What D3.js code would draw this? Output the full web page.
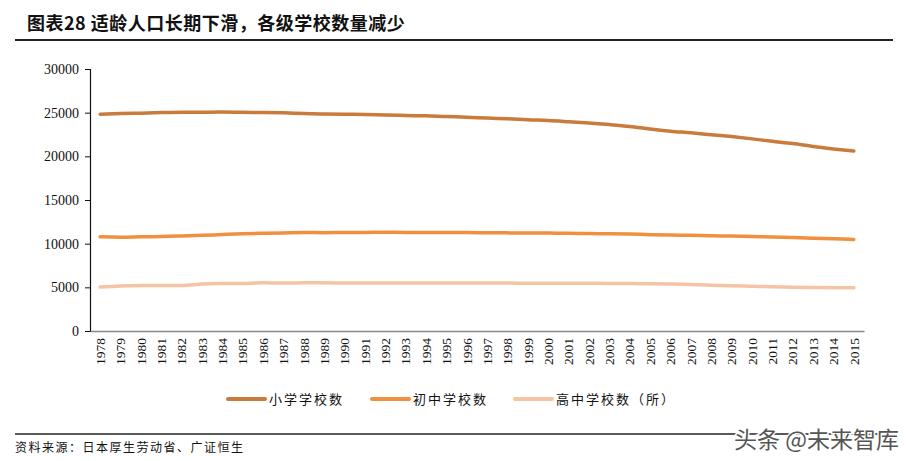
<!DOCTYPE html>
<html><head><meta charset="utf-8">
<script src="https://cdn.jsdelivr.net/npm/d3@7"></script>
<style>body{margin:0;background:#fff;}svg{display:block;}</style>
</head><body>
<svg id="c" width="906" height="461"></svg>
<script>
const years = [1978,1979,1980,1981,1982,1983,1984,1985,1986,1987,1988,1989,1990,1991,1992,1993,1994,1995,1996,1997,1998,1999,2000,2001,2002,2003,2004,2005,2006,2007,2008,2009,2010,2011,2012,2013,2014,2015];
const elementary = [24828,24899,24945,25005,25043,25045,25064,25040,25020,24982,24901,24851,24827,24798,24730,24676,24635,24548,24482,24376,24295,24188,24106,23964,23808,23633,23420,23123,22878,22693,22476,22258,22000,21721,21460,21131,20852,20601];
const juniorHigh = [10778,10746,10780,10810,10879,10950,11047,11131,11190,11230,11266,11264,11275,11290,11300,11292,11289,11274,11269,11257,11236,11220,11209,11191,11159,11134,11102,11035,10992,10955,10915,10864,10815,10751,10699,10628,10557,10484];
const highSchool = [5027,5152,5208,5219,5213,5369,5431,5453,5512,5508,5512,5511,5506,5503,5501,5501,5497,5501,5496,5496,5483,5481,5478,5479,5472,5450,5429,5418,5385,5313,5243,5183,5116,5060,5022,4981,4963,4939];
const yTicks = [0,5000,10000,15000,20000,25000,30000];
const seriesNames = ["小学学校数","初中学校数","高中学校数（所）"];
const colors = ["#c97b3c","#f0903e","#f7c3a6"];
const title = "图表28 适龄人口长期下滑，各级学校数量减少";
const source = "资料来源：日本厚生劳动省、广证恒生";

const svg = d3.select("#c");
const serif = "'Liberation Serif','DejaVu Serif',serif";
const cjk = "'Noto Sans CJK SC','Noto Sans',sans-serif";

// title
svg.append("text").attr("x",27).attr("y",30).attr("font-family",cjk).attr("font-weight","bold")
  .attr("font-size",18).attr("letter-spacing","0.5px").attr("fill","#111").text(title);
svg.append("line").attr("x1",15).attr("x2",893).attr("y1",40).attr("y2",40).attr("stroke","#222").attr("stroke-width",2);

const x = d3.scaleBand().domain(years).range([90,864]);
const y = d3.scaleLinear().domain([0,30000]).range([331,69]);

// y axis
const ya = svg.append("g").attr("transform","translate(90,0)")
  .call(d3.axisLeft(y).tickValues(yTicks).tickSize(5).tickPadding(6).tickFormat(d3.format("d")));
ya.select(".domain").attr("stroke","#111").attr("stroke-width",1.2);
ya.selectAll(".tick line").attr("stroke","#111");
ya.selectAll("text").attr("font-family",serif).attr("font-size",14).attr("fill","#111");

// x axis
const xa = svg.append("g").attr("transform","translate(0,331)")
  .call(d3.axisBottom(x).tickSize(0).tickPadding(0));
xa.select(".domain").attr("stroke","#888").attr("stroke-width",1.5);
xa.selectAll("text").attr("font-family",serif).attr("font-size",13.5).attr("fill","#111")
  .attr("transform","rotate(-90)").attr("text-anchor","end").attr("dx","-7").attr("dy","0.35em")
  .attr("x",0).attr("y",0);

const line = d3.line().x((d,i)=>x(years[i])+x.bandwidth()/2).y(d=>y(d)).curve(d3.curveMonotoneX);
[elementary,juniorHigh,highSchool].forEach((s,k)=>{
  svg.append("path").datum(s).attr("d",line).attr("fill","none")
    .attr("stroke",colors[k]).attr("stroke-width",3.5).attr("stroke-linecap","round");
});

// legend
const lx = [228,372,515];
seriesNames.forEach((n,k)=>{
  svg.append("line").attr("x1",lx[k]).attr("x2",lx[k]+37).attr("y1",399).attr("y2",399)
    .attr("stroke",colors[k]).attr("stroke-width",4).attr("stroke-linecap","round");
  svg.append("text").attr("x",lx[k]+41).attr("y",404).attr("font-family",cjk).attr("font-size",13)
    .attr("letter-spacing","2px").attr("fill","#111").text(n);
});

// footer
svg.append("line").attr("x1",15).attr("x2",893).attr("y1",434).attr("y2",434).attr("stroke","#222").attr("stroke-width",1.5);
svg.append("text").attr("x",15).attr("y",452).attr("font-family",cjk).attr("font-size",12)
  .attr("letter-spacing","1.5px").attr("fill","#111").text(source);
svg.append("text").attr("x",899).attr("y",448).attr("text-anchor","end").attr("font-family",cjk)
  .attr("font-size",23).attr("fill","#555").attr("stroke","#fff").attr("stroke-width",3)
  .attr("paint-order","stroke").text("头条 @未来智库");
</script>
</body></html>
